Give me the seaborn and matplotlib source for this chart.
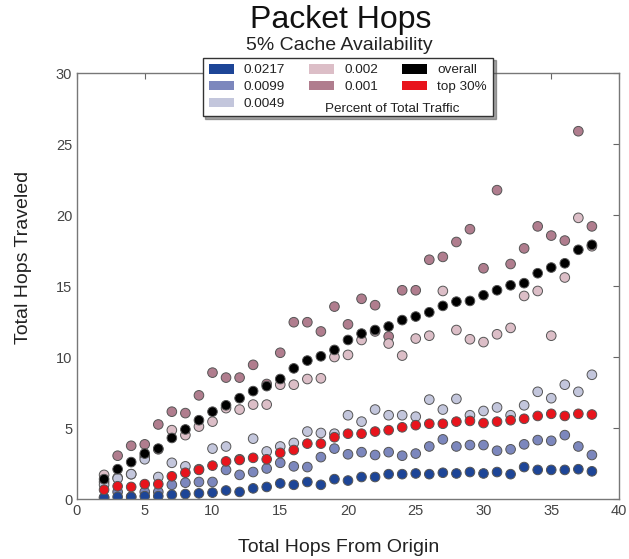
import numpy as np
import pandas as pd
import matplotlib
matplotlib.use("Agg")
import matplotlib.pyplot as plt
from matplotlib.patches import Patch
import seaborn as sns

hops = list(range(2, 39))

s0217 = [0.1, 0.15, 0.15, 0.2, 0.2, 0.3, 0.35, 0.4, 0.45, 0.6, 0.5, 0.75, 0.85, 1.1, 1.0, 1.2,
         1.0, 1.4, 1.3, 1.55, 1.55, 1.75, 1.75, 1.8, 1.75, 1.85, 1.8, 1.9, 1.8, 1.9, 1.75,
         2.25, 2.05, 2.05, 2.05, 2.1, 1.95]
s0099 = [0.1, 0.5, 0.15, 0.5, 0.5, 1.0, 1.15, 1.2, 1.2, 2.05, 1.7, 1.9, 2.15, 2.55, 2.3, 2.25,
         2.95, 3.55, 3.15, 3.3, 3.1, 3.3, 3.05, 3.2, 3.7, 4.2, 3.7, 3.8, 3.8, 3.4, 3.5,
         3.85, 4.15, 4.1, 4.5, 3.7, 3.1]
s0049 = [1.0, 1.45, 1.75, 2.8, 1.55, 2.55, 2.3, 2.1, 3.55, 3.7, 2.8, 4.25, 3.35, 3.7, 3.95, 4.75,
         4.65, 4.6, 5.9, 5.45, 6.3, 5.9, 5.9, 5.8, 7.0, 6.3, 7.05, 5.9, 6.2, 6.45, 5.9,
         6.6, 7.55, 7.1, 8.05, 7.55, 8.75]
s002 = [1.7, 1.5, 1.75, 3.0, 3.5, 4.85, 4.5, 5.1, 5.45, 6.4, 6.3, 6.65, 6.65, 8.05, 8.05, 8.45,
        8.5, 10.0, 10.15, 11.2, 11.8, 10.95, 10.1, 11.3, 11.5, 14.65, 11.9, 11.25, 11.05, 11.6, 12.05,
        14.3, 14.65, 11.5, 15.6, 19.8, 17.8]
s001 = [1.2, 3.05, 3.75, 3.85, 5.25, 6.15, 6.05, 7.3, 8.9, 8.55, 8.55, 9.45, 8.1, 10.3, 12.45, 12.45,
        11.8, 13.55, 12.3, 14.1, 13.65, 11.45, 14.7, 14.7, 16.85, 17.05, 18.1, 19.0, 16.25, 21.75, 16.55,
        17.65, 19.2, 18.55, 18.2, 25.9, 19.2]
overall = [1.4, 2.1, 2.6, 3.2, 3.55, 4.3, 4.9, 5.55, 6.15, 6.6, 7.1, 7.6, 7.95, 8.45, 9.2, 9.75,
           10.05, 10.5, 11.2, 11.65, 11.9, 12.15, 12.6, 12.85, 13.15, 13.6, 13.9, 13.95, 14.35, 14.7, 15.05,
           15.2, 15.9, 16.3, 16.6, 17.55, 17.9]
top30 = [0.65, 0.9, 0.85, 1.05, 1.05, 1.6, 1.85, 2.05, 2.35, 2.65, 2.75, 2.9, 2.8, 3.25, 3.45, 3.9,
         3.9, 4.35, 4.6, 4.6, 4.75, 4.85, 5.05, 5.2, 5.3, 5.3, 5.45, 5.5, 5.35, 5.45, 5.55,
         5.65, 5.85, 6.0, 5.85, 6.0, 5.95]

labels = ["0.0217", "0.0099", "0.0049", "0.002", "0.001", "overall", "top 30%"]
colors = ["#1d4597", "#7c87bd", "#c3c6dc", "#dcbec7", "#b07d8e", "#000000", "#e8141c"]
series = {"0.0217": s0217, "0.0099": s0099, "0.0049": s0049, "0.002": s002,
          "0.001": s001, "overall": overall, "top 30%": top30}
draw_order = ["0.001", "0.002", "0.0049", "0.0099", "0.0217", "top 30%", "overall"]

frames = [pd.DataFrame({"hops": hops, "traveled": series[k], "group": k}) for k in draw_order]
df = pd.concat(frames, ignore_index=True)
palette = dict(zip(labels, colors))

sns.set_style("white")
plt.rcParams["font.family"] = ["Liberation Sans", "DejaVu Sans"]

fig = plt.figure(figsize=(6.29, 5.59), dpi=100)
ax = fig.add_axes([0.1224, 0.1073, 0.8617, 0.7621])

sns.scatterplot(data=df, x="hops", y="traveled", hue="group", palette=palette,
                s=48, edgecolor="#555555", linewidth=0.7, legend=False, ax=ax)

ax.set_xlim(0, 40)
ax.set_ylim(0, 30)
ax.set_xticks(range(0, 41, 5))
ax.set_yticks(range(0, 31, 5))
ax.tick_params(direction="in", top=True, right=True, length=4, width=0.8,
               colors="#666666", labelcolor="#444444", labelsize=10.5)
for sp in ax.spines.values():
    sp.set_color("#777777")
    sp.set_linewidth(1.0)
ax.set_xlabel("Total Hops From Origin", fontsize=14, color="#222222")
ax.set_ylabel("Total Hops Traveled", fontsize=14, color="#222222")
ax.xaxis.set_label_coords(0.483, -0.095)
ax.yaxis.set_label_coords(-0.083, 0.568)

fig.text(0.541, 0.964, "Packet Hops", ha="center", va="center", fontsize=23, color="#111111")
fig.text(0.539, 0.918, "5% Cache Availability", ha="center", va="center", fontsize=14, color="#222222")

handles = [Patch(facecolor=palette[l], edgecolor="none", label=l) for l in labels[:5]]
blank = Patch(facecolor="none", edgecolor="none", label="")
handles = handles[:3] + handles[3:5] + [blank] + \
    [Patch(facecolor=palette["overall"], edgecolor="none", label="overall"),
     Patch(facecolor=palette["top 30%"], edgecolor="none", label="top 30%"), blank]
leg = ax.legend(handles=handles, loc="upper center", bbox_to_anchor=(0.553, 0.897),
                bbox_transform=fig.transFigure, ncol=3, fontsize=9.7, frameon=True,
                shadow=True, fancybox=False, handlelength=1.85, handleheight=0.75,
                handletextpad=0.75, columnspacing=1.8, labelspacing=0.32, borderpad=0.45,
                borderaxespad=0)
leg.get_frame().set_edgecolor("#333333")
leg.get_frame().set_linewidth(1.0)
for t in leg.get_texts():
    t.set_color("#222222")
fig.text(0.517, 0.805, "Percent of Total Traffic", ha="left", va="center", fontsize=9.7,
         color="#222222", zorder=10)

fig.savefig("out.png", dpi=100, facecolor="white")
